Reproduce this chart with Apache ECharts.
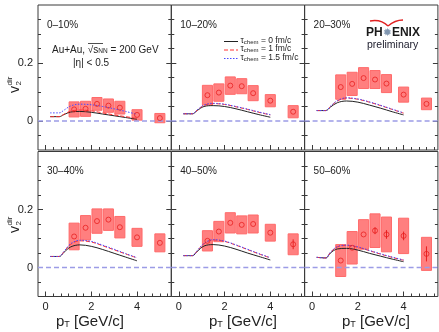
<!DOCTYPE html>
<html>
<head>
<meta charset="utf-8">
<script src="https://cdn.jsdelivr.net/npm/echarts@6/dist/echarts.min.js"></script>
<style>
  html, body { margin: 0; padding: 0; background: #fff; }
  #chart { width: 439px; height: 332px; }
</style>
</head>
<body>
<div id="chart"></div>
<script>
// direct photon v2, one row per centrality class
const centralities = ['0–10%', '10–20%', '20–30%', '30–40%', '40–50%', '50–60%'];
const ptPoints = [1.25, 1.75, 2.25, 2.75, 3.25, 4, 5];

const v2Central = [
  [0.040, 0.042, 0.059, 0.053, 0.046, 0.021, 0.010],
  [0.089, 0.098, 0.122, 0.120, 0.096, 0.070, 0.032],
  [0.117, 0.128, 0.148, 0.143, 0.129, 0.091, 0.059],
  [0.107, 0.137, 0.160, 0.165, 0.139, 0.104, 0.085],
  [0.092, 0.124, 0.154, 0.147, 0.150, 0.120, 0.080],
  [0.024, 0.068, 0.114, 0.127, 0.114, 0.109, 0.047]
];
const v2Syst = [
  [0.026, 0.026, 0.022, 0.023, 0.022, 0.018, 0.016],
  [0.034, 0.030, 0.030, 0.026, 0.026, 0.021, 0.021],
  [0.042, 0.040, 0.036, 0.031, 0.031, 0.026, 0.020],
  [0.046, 0.042, 0.042, 0.037, 0.037, 0.031, 0.031],
  [0.035, 0.035, 0.035, 0.031, 0.031, 0.029, 0.036],
  [0.055, 0.056, 0.051, 0.058, 0.060, 0.061, 0.057]
];
// only the bars that stick out of the markers are given
const v2Stat = [
  [0, 0, 0, 0, 0, 0, 0],
  [0, 0, 0, 0, 0, 0, 0],
  [0, 0, 0, 0, 0, 0, 0],
  [0, 0, 0, 0, 0, 0, 0],
  [0, 0, 0, 0, 0, 0, 0.017],
  [0, 0, 0, 0.012, 0.015, 0.015, 0.026]
];

// hydro curves for the three tau_chem values
const modelPt = [0.2, 0.6, 0.8, 1.1, 1.5, 2.0, 2.5, 3.0, 3.5, 4.0];
const tau0 = [
  [0.015, 0.015, 0.022, 0.031, 0.033, 0.030, 0.024, 0.018, 0.012, 0.006],
  [0.025, 0.025, 0.036, 0.050, 0.053, 0.050, 0.042, 0.032, 0.022, 0.013],
  [0.036, 0.036, 0.048, 0.063, 0.069, 0.065, 0.055, 0.044, 0.032, 0.021],
  [0.038, 0.038, 0.052, 0.071, 0.078, 0.073, 0.062, 0.049, 0.036, 0.023],
  [0.041, 0.041, 0.055, 0.074, 0.079, 0.074, 0.063, 0.050, 0.038, 0.026],
  [0.035, 0.033, 0.050, 0.064, 0.066, 0.060, 0.049, 0.039, 0.029, 0.020]
];
const tau1 = [
  [0.015, 0.015, 0.023, 0.034, 0.038, 0.035, 0.028, 0.021, 0.015, 0.009],
  [0.025, 0.025, 0.037, 0.054, 0.060, 0.057, 0.049, 0.040, 0.030, 0.021],
  [0.036, 0.036, 0.050, 0.069, 0.079, 0.075, 0.065, 0.053, 0.040, 0.027],
  [0.038, 0.038, 0.054, 0.080, 0.092, 0.088, 0.075, 0.061, 0.047, 0.033],
  [0.041, 0.041, 0.057, 0.082, 0.095, 0.090, 0.077, 0.062, 0.047, 0.033],
  [0.035, 0.033, 0.052, 0.071, 0.076, 0.070, 0.058, 0.046, 0.035, 0.025]
];
const tau15 = [
  [0.028, 0.028, 0.037, 0.052, 0.058, 0.056, 0.050, 0.042, 0.033, 0.023],
  [0.025, 0.025, 0.038, 0.055, 0.061, 0.058, 0.050, 0.041, 0.031, 0.022],
  [0.036, 0.036, 0.051, 0.070, 0.080, 0.076, 0.066, 0.054, 0.041, 0.028],
  [0.038, 0.038, 0.055, 0.082, 0.094, 0.090, 0.077, 0.063, 0.048, 0.034],
  [0.041, 0.041, 0.058, 0.083, 0.096, 0.091, 0.078, 0.063, 0.048, 0.034],
  [0.035, 0.033, 0.053, 0.072, 0.077, 0.071, 0.059, 0.047, 0.036, 0.026]
];

const xMajorTicks = [0, 2, 4];
const xMinorTicks = [0.333, 0.667, 1, 1.333, 1.667, 2.333, 2.667, 3, 3.333, 3.667, 4.333, 4.667, 5, 5.333];
const yMajorTicks = [0, 0.2];
const yMinorTicks = [-0.05, 0.05, 0.1, 0.15, 0.25, 0.3, 0.35];

const xMin = -0.33, xMax = 5.5, yMin = -0.1, yMax = 0.4;
const boxHalfWidth = 0.22;
const FONT = '"Liberation Sans", Arial, sans-serif';
const frameColor = '#3a3a3a';

const colLeft = [38, 171.3, 304.6];
const colWidth = 133.3;
const rowTop = [5, 151.5];
const rowHeight = 145;

const grids = [];
const xAxes = [];
const yAxes = [];
const series = [];

function xAxis(grid, ticks, len, labels) {
  return {
    type: 'value', gridIndex: grid, position: 'bottom', min: xMin, max: xMax,
    axisLine: { show: false, onZero: false },
    axisTick: { show: true, inside: true, length: len, customValues: ticks, lineStyle: { color: frameColor } },
    axisLabel: { show: labels, customValues: ticks, margin: 5, fontSize: 11, fontFamily: FONT, color: '#222' },
    splitLine: { show: false }
  };
}

function yAxis(grid, pos, ticks, len, labels) {
  return {
    type: 'value', gridIndex: grid, position: pos, min: yMin, max: yMax,
    axisLine: { show: false, onZero: false },
    axisTick: { show: true, inside: true, length: len, customValues: ticks, lineStyle: { color: frameColor } },
    axisLabel: { show: labels, customValues: ticks, margin: 5, fontSize: 11, fontFamily: FONT, color: '#222',
      formatter: v => (v === 0 ? '0' : v.toFixed(1)) },
    splitLine: { show: false }
  };
}

for (let i = 0; i < 6; i++) {
  const row = Math.floor(i / 3), col = i % 3;
  grids.push({
    left: colLeft[col], top: rowTop[row], width: colWidth, height: rowHeight,
    show: true, borderColor: frameColor, borderWidth: 1, backgroundColor: 'transparent'
  });
  const xi = xAxes.length, yi = yAxes.length;
  xAxes.push(xAxis(i, xMajorTicks, 5, row === 1), xAxis(i, xMinorTicks, 3, false));
  yAxes.push(
    yAxis(i, 'left', yMajorTicks, 5, col === 0),
    yAxis(i, 'left', yMinorTicks, 3, false),
    yAxis(i, 'right', yMajorTicks, 5, false),
    yAxis(i, 'right', yMinorTicks, 3, false)
  );

  // systematic boxes
  series.push({
    type: 'custom', xAxisIndex: xi, yAxisIndex: yi, z: 2,
    data: ptPoints.map((pt, k) => [pt, v2Central[i][k] - v2Syst[i][k], v2Central[i][k] + v2Syst[i][k]]),
    renderItem: (params, api) => {
      const x = api.value(0);
      const a = api.coord([x - boxHalfWidth, api.value(2)]);
      const b = api.coord([x + boxHalfWidth, api.value(1)]);
      return {
        type: 'rect',
        shape: { x: a[0], y: a[1], width: b[0] - a[0], height: b[1] - a[1] },
        style: { fill: '#ff7f7f', stroke: '#ff6a6a', lineWidth: 1 }
      };
    }
  });

  // zero line
  series.push({
    type: 'line', xAxisIndex: xi, yAxisIndex: yi, z: 3, symbol: 'none', silent: true,
    data: [[xMin, 0], [xMax, 0]],
    lineStyle: { color: '#9c9ce6', width: 1.5, type: [5, 3] }
  });

  // model curves
  const curves = [
    [tau0[i], { color: '#222', width: 1, type: 'solid' }],
    [tau1[i], { color: '#ff3030', width: 1, type: [4, 2] }],
    [tau15[i], { color: '#4a4aff', width: 1, type: [1.5, 1.5] }]
  ];
  curves.forEach(([vals, ls]) => {
    series.push({
      type: 'line', xAxisIndex: xi, yAxisIndex: yi, z: 3, symbol: 'none', smooth: 0.35,
      data: modelPt.map((pt, k) => [pt, vals[k]]),
      lineStyle: ls
    });
  });

  // statistical error bars
  series.push({
    type: 'custom', xAxisIndex: xi, yAxisIndex: yi, z: 4,
    data: ptPoints.map((pt, k) => [pt, v2Central[i][k] - v2Stat[i][k], v2Central[i][k] + v2Stat[i][k]]),
    renderItem: (params, api) => {
      if (api.value(2) - api.value(1) <= 0) return null;
      const a = api.coord([api.value(0), api.value(2)]);
      const b = api.coord([api.value(0), api.value(1)]);
      return {
        type: 'line',
        shape: { x1: a[0], y1: a[1], x2: b[0], y2: b[1] },
        style: { stroke: '#e82020', lineWidth: 1 }
      };
    }
  });

  // central values
  series.push({
    type: 'scatter', xAxisIndex: xi, yAxisIndex: yi, z: 5,
    symbol: 'circle', symbolSize: 5,
    data: ptPoints.map((pt, k) => [pt, v2Central[i][k]]),
    itemStyle: { color: 'transparent', borderColor: '#e82020', borderWidth: 1 }
  });
}

const sub = { fontSize: 7, lineHeight: 8, verticalAlign: 'bottom', fontFamily: FONT, fill: '#222' };
const graphics = [];

centralities.forEach((label, i) => {
  const row = Math.floor(i / 3), col = i % 3;
  graphics.push({
    type: 'text', x: colLeft[col] + 9, y: rowTop[row] + 20,
    style: { text: label, font: '10px ' + FONT, fill: '#222', verticalAlign: 'middle' }
  });
});

// collision system
graphics.push({
  type: 'text', x: 52, y: 50,
  style: {
    text: 'Au+Au, √s{sub|NN} = 200 GeV', font: '10px ' + FONT, fill: '#222', verticalAlign: 'middle',
    rich: { sub: Object.assign({}, sub, { fontSize: 6.5 }) }
  }
});
graphics.push({ type: 'line', shape: { x1: 88, y1: 43.5, x2: 103, y2: 43.5 }, style: { stroke: '#222', lineWidth: 0.8 } });
graphics.push({
  type: 'text', x: 73, y: 63,
  style: { text: '|η| < 0.5', font: '10px ' + FONT, fill: '#222', verticalAlign: 'middle' }
});

// legend
const legendRows = [
  ['0 fm/c', { stroke: '#222', lineWidth: 1 }],
  ['1 fm/c', { stroke: '#ff3030', lineWidth: 1, lineDash: [4, 2] }],
  ['1.5 fm/c', { stroke: '#4a4aff', lineWidth: 1, lineDash: [1.5, 1.5] }]
];
legendRows.forEach(([txt, st], r) => {
  const y = 40.5 + r * 8.5;
  graphics.push({ type: 'line', shape: { x1: 224, y1: y + 1, x2: 238, y2: y + 1 }, style: st });
  graphics.push({
    type: 'text', x: 240.5, y: y,
    style: {
      text: 'τ{sub|chem} = ' + txt, font: '8.5px ' + FONT, fill: '#222', verticalAlign: 'middle',
      rich: { sub: Object.assign({}, sub, { fontSize: 6 }) }
    }
  });
});

// PHENIX preliminary
graphics.push({
  type: 'bezierCurve', shape: { x1: 370, y1: 21, cpx1: 381, cpy1: 19, x2: 388, y2: 26 },
  style: { stroke: '#e02020', lineWidth: 1.4, fill: null }
});
graphics.push({
  type: 'bezierCurve', shape: { x1: 388, y1: 26, cpx1: 395, cpy1: 20, x2: 403, y2: 20 },
  style: { stroke: '#e02020', lineWidth: 1.4, fill: null }
});
graphics.push({
  type: 'text', x: 366, y: 33,
  style: {
    text: 'PH{star|✹}ENIX', font: 'bold 12px ' + FONT, fill: '#1a1a1a', verticalAlign: 'middle',
    rich: { star: { fontSize: 11, fontFamily: 'DejaVu Sans', fill: '#8096b0' } }
  }
});
graphics.push({
  type: 'text', x: 367, y: 45,
  style: { text: 'preliminary', font: '10.5px ' + FONT, fill: '#1a1a2a', verticalAlign: 'middle' }
});

// y axis titles
[84, 224].forEach(cy => {
  graphics.push({
    type: 'group', x: 15, y: cy, rotation: Math.PI / 2,
    children: [
      { type: 'text', x: -9, y: 0, style: { text: 'v', font: '14px ' + FONT, fill: '#222', verticalAlign: 'middle' } },
      { type: 'text', x: -1.5, y: 4, style: { text: '2', font: '8px ' + FONT, fill: '#222', verticalAlign: 'middle' } },
      { type: 'text', x: -1.5, y: -5, style: { text: 'dir', font: '8px ' + FONT, fill: '#222', verticalAlign: 'middle' } }
    ]
  });
});

// x axis titles
[90, 243, 376].forEach(cx => {
  graphics.push({
    type: 'text', x: cx, y: 322,
    style: {
      text: 'p{sub|T} [GeV/c]', font: '15px ' + FONT, fill: '#222', align: 'center', verticalAlign: 'middle',
      rich: { sub: Object.assign({}, sub, { fontSize: 9, lineHeight: 10 }) }
    }
  });
});

const chart = echarts.init(document.getElementById('chart'), null, { renderer: 'canvas' });
chart.setOption({
  animation: false,
  backgroundColor: '#fff',
  grid: grids,
  xAxis: xAxes,
  yAxis: yAxes,
  series: series,
  graphic: graphics
});
</script>
</body>
</html>
